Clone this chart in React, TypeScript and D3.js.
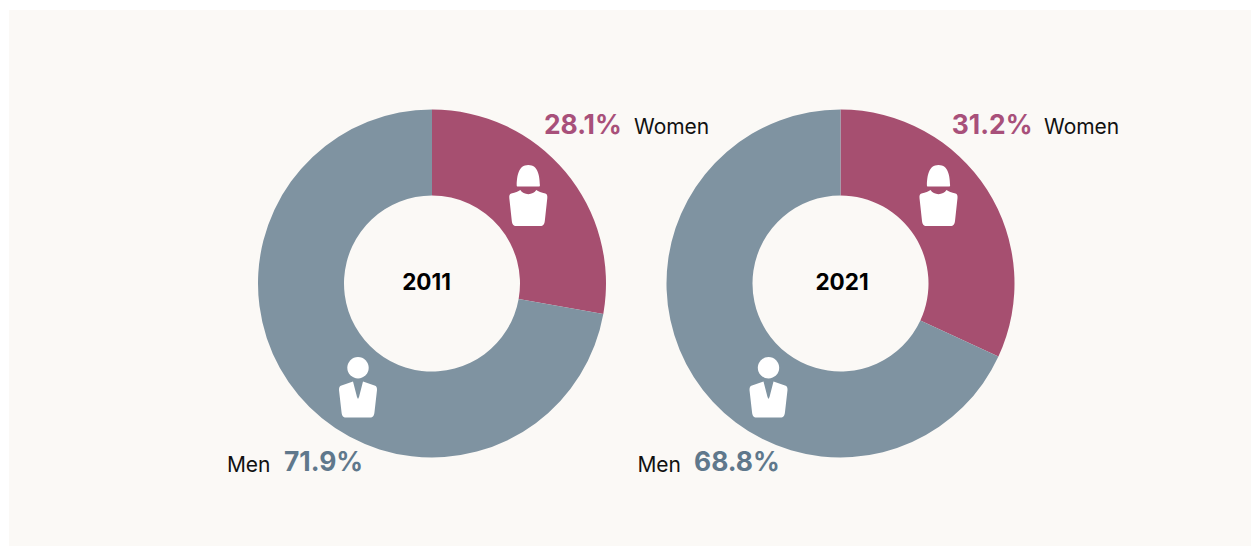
import React from "react";
import * as d3 from "d3";

const years = ["2011", "2021"];
const women = [28.1, 31.2];
const men = [71.9, 68.8];
// the printed share and the drawn slice do not agree in the picture, these are the slices as drawn
const womenDrawn = [27.8, 31.9];
const menDrawn = [72.2, 68.1];
const labels = ["Women", "Men"];

const width = 1251;
const height = 546;
const centerX = d3.scaleOrdinal<string, number>().domain(years).range([432, 840.5]);
const centerY = 283.5;
const outerR = 174;
const innerR = 88;

const WOMAN_COLOR = "#a64f70";
const MAN_COLOR = "#7f93a1";
const WOMAN_TEXT = "#a8507a";
const MAN_TEXT = "#5f788c";
const FONT = "Inter, sans-serif";

// label placement, one entry per year
const yearX = [426.5, 842];
const womanIconX = [528.3, 938.5];
const manIconX = [358, 768.5];
const womenPctEnd = [621.8, 1032.5];
const womenLabelX = [634, 1044];
const menLabelEnd = [270.5, 681];
const menPctX = [284, 694];

const pie = d3.pie<number>().sort(null).value((d) => d);
const arc = d3.arc<d3.PieArcDatum<number>>().innerRadius(innerR).outerRadius(outerR);

const WomanIcon = ({ x, y }: { x: number; y: number }) => (
  <g transform={`translate(${x},${y})`} fill="#fff">
    <path d="M-10.5,-9.5 L10.5,-9.5 C11.3,-9.5 11.7,-10 11.6,-11 C11.2,-20 10,-31 0,-31 C-10,-31 -11.2,-20 -11.6,-11 C-11.7,-10 -11.3,-9.5 -10.5,-9.5 Z" />
    <path d="M-17,-2.5 C-13,-3.5 -10,-4.5 -8,-6 C-5,-0.5 5,-0.5 8,-6 C10,-4.5 13,-3.5 17,-2.5 C18.7,-2 19.2,-0.5 19,2 L16.5,25 C16,28.5 15,30 12,30 L-12,30 C-15,30 -16,28.5 -16.5,25 L-19,2 C-19.2,-0.5 -18.7,-2 -17,-2.5 Z" />
  </g>
);

const ManIcon = ({ x, y }: { x: number; y: number }) => (
  <g transform={`translate(${x},${y})`} fill="#fff">
    <circle cx={0} cy={-20.3} r={10.7} />
    <path d="M-5,-6.5 L-1,9 L0,11 L1,9 L5,-6.5 L16.5,-2.5 C18.5,-2 19,-0.5 19,2 L16.5,24 C16,28 15,29.5 12,29.5 L-12,29.5 C-15,29.5 -16,28 -16.5,24 L-19,2 C-19,-0.5 -18.5,-2 -16.5,-2.5 Z" />
  </g>
);

const App = () => {
  return (
    <svg width={width} height={height} style={{ position: "fixed", left: 0, top: 0, background: "#fff" }}>
      <rect x={9} y={10} width={width - 9} height={height - 10} fill="#fbf9f6" />
      {years.map((year, i) => {
        const cx = centerX(year);
        const slices = pie([womenDrawn[i], menDrawn[i]]);
        return (
          <g key={year}>
            <g transform={`translate(${cx},${centerY})`}>
              {slices.map((s, j) => (
                <path key={j} d={arc(s) as string} fill={j === 0 ? WOMAN_COLOR : MAN_COLOR} />
              ))}
            </g>
            <WomanIcon x={womanIconX[i]} y={196} />
            <ManIcon x={manIconX[i]} y={388} />
            <text x={yearX[i]} y={290} textAnchor="middle" fontFamily={FONT} fontSize={22.5} fontWeight={700} fill="#000">
              {year}
            </text>
            <text x={womenPctEnd[i]} y={134} textAnchor="end" fontFamily={FONT} fontSize={26.4} fontWeight={700} fill={WOMAN_TEXT}>
              {women[i].toFixed(1)}%
            </text>
            <text x={womenLabelX[i]} y={134} fontFamily={FONT} fontSize={21} fill="#111">
              {labels[0]}
            </text>
            <text x={menLabelEnd[i]} y={472} textAnchor="end" fontFamily={FONT} fontSize={21} fill="#111">
              {labels[1]}
            </text>
            <text x={menPctX[i]} y={471} fontFamily={FONT} fontSize={26.4} fontWeight={700} fill={MAN_TEXT}>
              {men[i].toFixed(1)}%
            </text>
          </g>
        );
      })}
    </svg>
  );
};

export default App;
